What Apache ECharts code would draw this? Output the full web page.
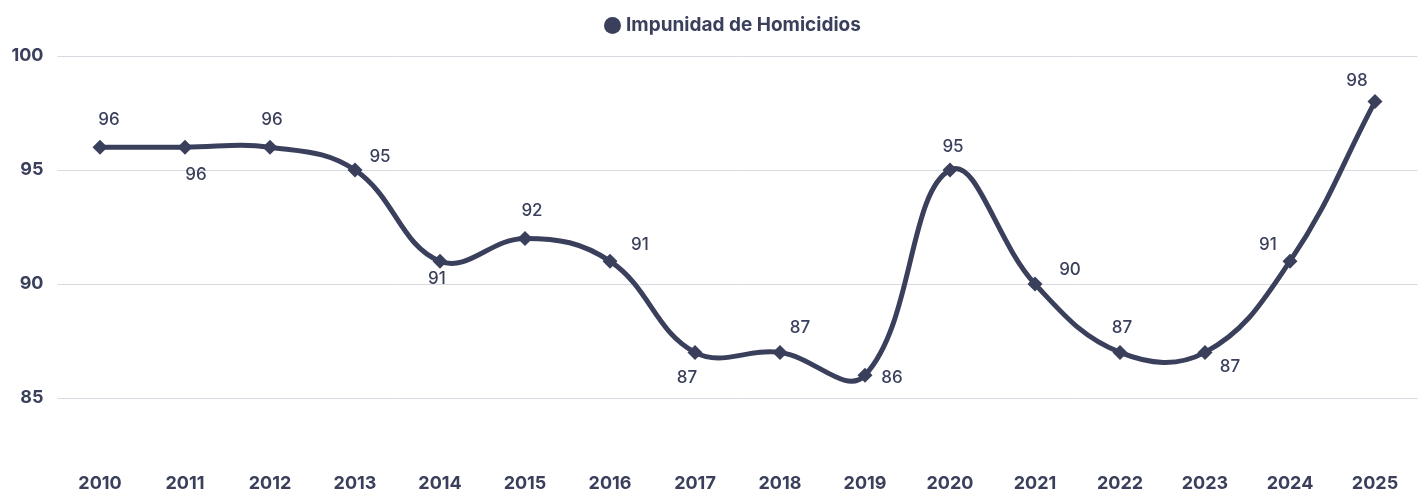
<!DOCTYPE html>
<html>
<head>
<meta charset="utf-8">
<script src="https://cdn.jsdelivr.net/npm/echarts@6/dist/echarts.min.js"></script>
<style>
  html, body { margin: 0; padding: 0; background: #fff; }
  #chart { width: 1421px; height: 495px; }
</style>
</head>
<body>
<div id="chart"></div>
<script>
// datos
var years = ['2010', '2011', '2012', '2013', '2014', '2015', '2016', '2017',
    '2018', '2019', '2020', '2021', '2022', '2023', '2024', '2025'];
var impunidad = [96, 96, 96, 95, 91, 92, 91, 87, 87, 86, 95, 90, 87, 87, 91, 98];

// desplazamiento de cada etiqueta respecto al punto
var labelOffsets = [
    [9, -27], [11, 28], [2, -27], [25, -13], [-3, 18], [7, -28], [30, -16], [-8, 25],
    [20, -25], [27, 3], [3, -23], [35, -14], [2, -25], [25, 14], [-22, -16], [-18, -21]
];

var color = '#3a3f5c';
var font = 'Inter, "Noto Sans", sans-serif';
var tension = 0.4;

// puntos de control tipo spline (con sobrepaso, como el original)
function controlPoints(pts, i) {
    var prev = pts[i - 1] || pts[i];
    var cur = pts[i];
    var next = pts[i + 1] || pts[i];
    var d01 = Math.hypot(cur[0] - prev[0], cur[1] - prev[1]);
    var d12 = Math.hypot(next[0] - cur[0], next[1] - cur[1]);
    var s01 = d01 / (d01 + d12 || 1);
    var s12 = d12 / (d01 + d12 || 1);
    var fa = tension * s01, fb = tension * s12;
    return {
        prev: [cur[0] - fa * (next[0] - prev[0]), cur[1] - fa * (next[1] - prev[1])],
        next: [cur[0] + fb * (next[0] - prev[0]), cur[1] + fb * (next[1] - prev[1])]
    };
}

function renderSegment(params, api) {
    var i = params.dataIndex;
    if (i >= impunidad.length - 1) return null;
    var pts = impunidad.map(function (v, k) { return api.coord([k, v]); });
    var a = controlPoints(pts, i);
    var b = controlPoints(pts, i + 1);
    return {
        type: 'bezierCurve',
        shape: {
            x1: pts[i][0], y1: pts[i][1],
            x2: pts[i + 1][0], y2: pts[i + 1][1],
            cpx1: a.next[0], cpy1: a.next[1],
            cpx2: b.prev[0], cpy2: b.prev[1]
        },
        style: { stroke: color, lineWidth: 5, fill: null, lineCap: 'round' },
        silent: true
    };
}

var chart = echarts.init(document.getElementById('chart'));

var option = {
    textStyle: { fontFamily: font },
    legend: {
        top: 11,
        left: 599,
        icon: 'circle',
        itemWidth: 17,
        itemHeight: 17,
        itemGap: 8,
        textStyle: { color: color, fontSize: 19, fontWeight: 'bold', fontFamily: font },
        data: ['Impunidad de Homicidios']
    },
    grid: { left: 57.5, right: 3.5, top: 56, bottom: 97 },
    xAxis: {
        type: 'category',
        data: years,
        boundaryGap: true,
        axisLine: { show: false },
        axisTick: { show: false },
        axisLabel: { color: color, fontSize: 18, fontWeight: 'bold', margin: 77, fontFamily: font }
    },
    yAxis: {
        type: 'value',
        min: 85,
        max: 100,
        interval: 5,
        axisLine: { show: false },
        axisTick: { show: false },
        axisLabel: { color: color, fontSize: 18, fontWeight: 'bold', margin: 14, fontFamily: font },
        splitLine: { lineStyle: { color: '#d9d9e1', width: 1 } }
    },
    series: [{
        name: 'curva',
        type: 'custom',
        renderItem: renderSegment,
        data: impunidad.map(function (v, i) { return [i, v]; }),
        z: 1
    }, {
        name: 'Impunidad de Homicidios',
        type: 'line',
        symbol: 'diamond',
        symbolSize: 15,
        itemStyle: { color: color },
        lineStyle: { color: color, width: 0, opacity: 0 },
        z: 2,
        data: impunidad.map(function (v, i) {
            return {
                value: v,
                label: {
                    show: true,
                    position: 'inside',
                    offset: labelOffsets[i],
                    color: color,
                    fontSize: 17,
                    fontWeight: 500,
                    fontFamily: font
                }
            };
        })
    }]
};

chart.setOption(option);
</script>
</body>
</html>
